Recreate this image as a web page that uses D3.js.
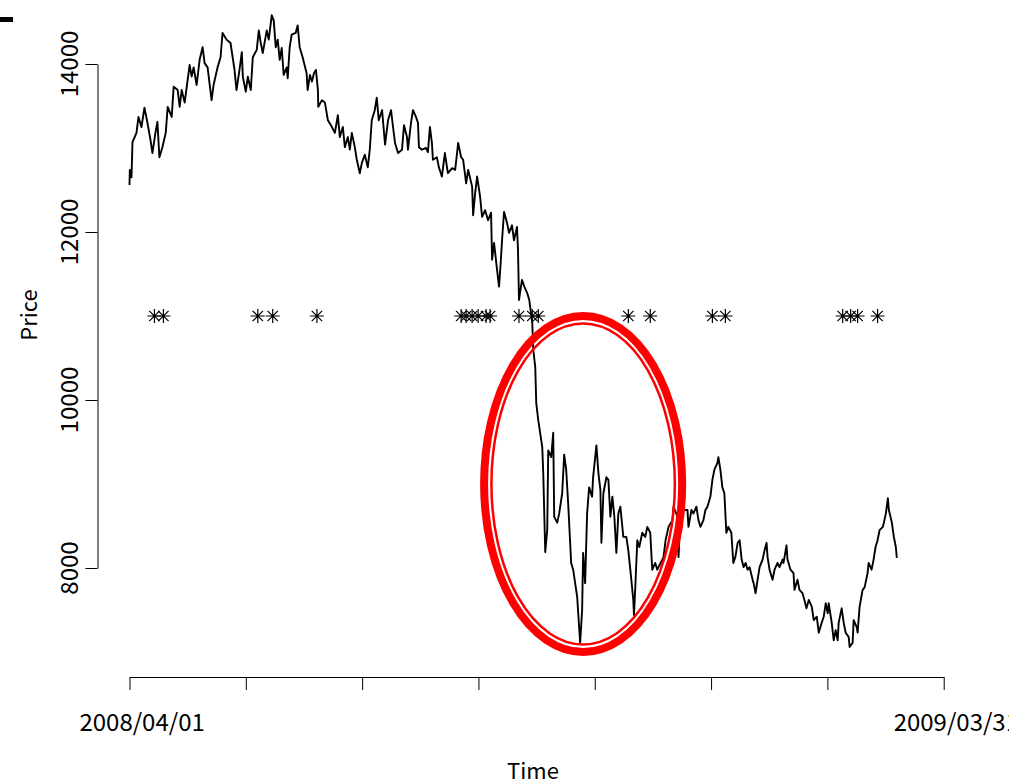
<!DOCTYPE html>
<html>
<head>
<meta charset="utf-8">
<script src="https://cdn.jsdelivr.net/npm/d3@7"></script>
<style>
  body { margin: 0; background: #fff; }
  svg { display: block; }
  text { font-family: "Noto Sans CJK JP", "Noto Sans", sans-serif; fill: #000; }
</style>
</head>
<body>
<svg width="1009" height="783"></svg>
<script>
// trading day index (0 = 2008/04/01) and price
var days = [0,0.1,0.6,0.9,2.1,2.7,3.6,4.5,5.4,6.3,6.9,7.8,8.4,9.0,9.9,10.9,11.5,12.7,13.3,14.5,
  15.1,15.7,16.6,17.5,18.1,18.7,19.3,20.2,21.1,22.0,22.6,23.5,24.7,25.3,26.5,27.4,28.0,29.2,30.4,31.6,
  32.2,33.2,33.8,34.1,35.0,35.6,36.5,37.1,38.3,38.9,39.5,40.1,41.3,41.9,42.8,43.4,44.0,44.6,45.2,45.8,
  46.4,47.3,47.6,48.2,48.8,50.0,50.6,51.2,52.1,53.3,53.6,54.3,54.9,55.5,56.1,56.7,56.8,57.9,58.8,59.7,
  60.9,61.8,62.7,63.3,64.2,64.8,65.7,66.3,66.9,67.8,68.4,69.3,69.9,70.8,71.7,72.3,72.9,73.8,74.4,75.0,
  76.0,76.9,77.8,78.7,79.3,79.9,80.8,82.0,82.6,83.5,83.8,84.7,85.3,86.2,86.8,87.1,88.0,89.2,89.8,90.4,
  91.0,91.3,92.5,93.1,94.0,94.9,95.8,97.1,98.0,98.9,99.8,100.4,101.3,101.9,103.1,103.4,104.0,104.6,105.5,106.1,
  107.0,107.9,108.8,109.1,109.7,110.6,111.2,111.8,112.1,112.7,113.6,114.2,115.1,115.7,116.6,116.9,117.2,118.1,118.8,119.7,
  120.3,121.2,121.5,122.1,122.4,123.0,124.2,124.5,125.1,125.7,126.0,126.9,127.5,127.8,128.7,129.3,130.2,130.8,131.4,132.0,
  132.9,133.5,134.1,134.7,135.6,136.2,136.5,137.1,137.7,138.3,139.2,139.5,140.5,141.1,141.7,142.0,142.6,143.5,144.1,144.7,
  145.3,145.9,146.5,147.1,147.7,148.3,148.6,149.5,150.1,150.7,151.6,151.8,152.2,152.8,153.4,154.3,155.2,155.8,156.7,157.3,
  158.2,158.8,159.8,160.7,161.3,162.2,163.4,163.7,164.9,165.2,165.8,166.7,167.9,168.2,169.1,169.7,170.6,171.2,171.8,172.7,
  173.3,173.9,174.8,175.4,176.0,176.9,177.2,177.8,178.4,179.0,179.3,179.6,180.2,181.1,181.7,182.3,183.0,183.6,184.2,184.8,
  185.4,186.0,186.6,187.5,187.8,188.4,189.0,189.6,190.5,191.1,191.7,192.0,192.6,193.5,194.1,195.0,195.6,196.5,196.8,197.7,
  198.0,198.9,199.8,200.1,201.0,201.6,202.5,203.1,203.7,204.4,205.3,205.9,206.8,207.4,208.3,208.9,209.5,210.1,210.4,211.3,
  211.9,212.5,213.1,213.4,214.3,214.9,215.5,216.4,216.7,217.6,217.9,218.8,219.1,219.7,220.6,221.2,222.1,222.4,223.3,223.9,
  224.5,225.1,225.7,226.7,227.0,227.6,228.2,228.5,229.4,230.0,230.6,230.9];

var prices = [12560,12740,12650,13070,13180,13370,13250,13480,13300,13100,12940,13180,13310,12890,13010,13180,13490,13370,13730,13690,
  13490,13690,13540,13810,13990,13850,13960,13750,14050,14200,14010,13960,13570,13750,13960,14080,14370,14290,14250,13930,
  13690,13960,14140,13850,13670,13850,13690,14080,14170,14400,14250,14130,14400,14290,14580,14520,14200,14290,14050,14190,
  13870,13960,13830,14200,14350,14370,14460,14200,14080,13890,13690,13870,13790,13890,13930,13690,13490,13570,13540,13330,
  13250,13180,13390,13130,13250,13010,13130,12980,13180,13010,12860,12700,12820,12920,12770,12980,13330,13450,13600,13330,
  13450,13040,13330,13450,13250,13060,12940,12980,13270,13130,12980,13300,13450,13370,13300,13010,12980,13000,12950,13250,
  13060,12860,12890,12770,12660,12940,12700,12760,12740,13060,12890,12860,12580,12740,12540,12200,12460,12660,12420,12180,
  12260,12140,12230,11670,11870,11550,11350,11700,11900,12240,12110,11990,12080,11900,12060,11790,11190,11430,11350,11270,
  11190,10920,10600,10390,9960,9760,9440,9130,8190,8450,9400,9320,9610,8610,8540,8650,8890,9350,9170,8770,
  8060,7980,7820,7660,7110,7500,8180,7820,8650,8960,8850,9080,9460,9130,8930,8300,8890,9080,9050,8610,
  8850,8610,8180,8650,8730,8490,8370,8370,8210,7980,7620,7440,7770,8330,8250,8420,8370,8490,8420,7980,
  8060,7980,8060,8130,8330,8490,8570,8730,8610,8130,8610,8690,8690,8490,8690,8650,8730,8570,8490,8570,
  8690,8730,8850,9050,9170,9250,9320,9170,8960,8890,8650,8420,8490,8420,8060,8130,8300,8330,8100,8010,
  8060,7980,8010,7860,7820,7700,7860,8010,8100,8210,8300,8130,7980,7860,7980,8060,8010,8100,8060,8270,
  8100,7980,7940,7740,7860,7740,7700,7620,7520,7620,7540,7380,7420,7230,7350,7420,7580,7460,7580,7350,
  7140,7260,7140,7350,7520,7350,7230,7180,7060,7110,7380,7300,7230,7540,7740,7770,7940,8060,7980,8100,
  8250,8330,8450,8490,8540,8650,8830,8690,8540,8370,8250,8120];

// signal days, plotted as asterisks at a fixed level
var starDays = [7.5,10.2,38.6,43.1,56.4,99.8,101.3,103.1,104.9,107.3,108.5,117.2,121.2,123.0,
  150.1,156.7,175.4,179.3,214.6,217.0,219.1,225.1];
var starLevel = 11000;

var yTicks = [8000, 10000, 12000, 14000];
var xTicks = [0, 35, 70, 105, 140, 175, 210, 245];
var xLabels = ["2008/04/01", "2009/03/31"];
var xLabelDays = [3.8, 248.8];

var svg = d3.select("svg");

var x = d3.scaleLinear().domain([0, 245]).range([129.5, 943.7]);
var y = d3.scaleLinear().domain([8000, 14000]).range([568, 64]);

// price line
var line = d3.line()
  .x(function(d) { return x(d[0]); })
  .y(function(d) { return y(d[1]); });

svg.append("path")
  .datum(d3.zip(days, prices))
  .attr("d", line)
  .attr("fill", "none")
  .attr("stroke", "#000")
  .attr("stroke-width", 1.9)
  .attr("stroke-linejoin", "round");

// asterisks (pch = 8)
var star = svg.selectAll(".star").data(starDays).enter().append("g")
  .attr("class", "star")
  .attr("transform", function(d) { return "translate(" + x(d) + "," + y(starLevel) + ")"; })
  .attr("stroke", "#000")
  .attr("stroke-width", 1.2);
star.append("path").attr("d", "M-7,0H7M0,-7V7M-5.2,-5.2L5.2,5.2M-5.2,5.2L5.2,-5.2");

// x axis
var xAxis = svg.append("g")
  .attr("transform", "translate(0,677)")
  .call(d3.axisBottom(x).tickValues(xTicks).tickFormat("").tickSize(13).tickSizeOuter(0));
xAxis.select(".domain").attr("stroke", "#000");
xAxis.selectAll(".tick line").attr("stroke", "#000");

svg.selectAll(".xlab").data(xLabels).enter().append("text")
  .attr("class", "xlab")
  .attr("x", function(d, i) { return x(xLabelDays[i]); })
  .attr("y", 731)
  .attr("text-anchor", "middle")
  .attr("font-size", "24px")
  .text(function(d) { return d; });

// y axis
var yAxis = svg.append("g")
  .attr("transform", "translate(97.5,0)")
  .call(d3.axisLeft(y).tickValues(yTicks).tickFormat("").tickSize(12).tickSizeOuter(0));
yAxis.select(".domain").attr("stroke", "#000");
yAxis.selectAll(".tick line").attr("stroke", "#000");

svg.selectAll(".ylab").data(yTicks).enter().append("text")
  .attr("class", "ylab")
  .attr("transform", function(d) { return "translate(78," + y(d) + ") rotate(-90)"; })
  .attr("text-anchor", "middle")
  .attr("font-size", "24px")
  .text(function(d) { return d; });

// axis titles
svg.append("text")
  .attr("x", 533).attr("y", 779)
  .attr("text-anchor", "middle")
  .attr("font-size", "22px")
  .text("Time");

svg.append("text")
  .attr("transform", "translate(37,315) rotate(-90)")
  .attr("text-anchor", "middle")
  .attr("font-size", "22px")
  .text("Price");

// clipped title remnant in the corner
svg.append("rect").attr("x", 0).attr("y", 17).attr("width", 13).attr("height", 5).attr("fill", "#000");

// red highlight around the crash
var cx = 136.5, cy = 9000;
svg.append("ellipse")
  .attr("cx", x(cx)).attr("cy", y(cy))
  .attr("rx", x(cx + 29.8) - x(cx)).attr("ry", y(cy - 2000) - y(cy))
  .attr("fill", "none").attr("stroke", "#ff0000").attr("stroke-width", 8);
svg.append("ellipse")
  .attr("cx", x(cx)).attr("cy", y(cy))
  .attr("rx", x(cx + 27.6) - x(cx)).attr("ry", y(cy - 1910) - y(cy))
  .attr("fill", "none").attr("stroke", "#ff0000").attr("stroke-width", 2.5);
</script>
</body>
</html>
